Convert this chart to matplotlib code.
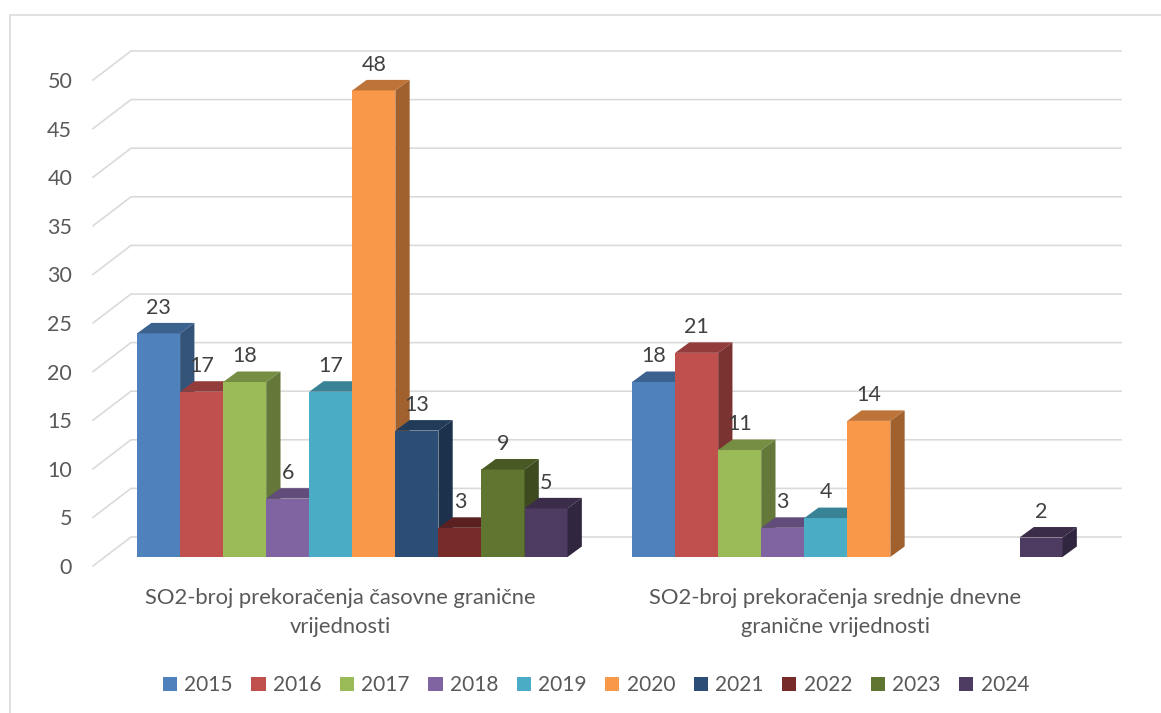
import numpy as np
import matplotlib
matplotlib.use("Agg")
import matplotlib.pyplot as plt
from matplotlib.lines import Line2D
from matplotlib.patches import Patch, Polygon

plt.rcParams['font.family'] = ['Lato', 'DejaVu Sans']

years = ['2015', '2016', '2017', '2018', '2019', '2020', '2021', '2022', '2023', '2024']
categories = ['SO2-broj prekoračenja časovne granične\nvrijednosti',
              'SO2-broj prekoračenja srednje dnevne\ngranične vrijednosti']
hourly = [23, 17, 18, 6, 17, 48, 13, 3, 9, 5]
daily = [18, 21, 11, 3, 4, 14, None, None, None, 2]
y_ticks = [0, 5, 10, 15, 20, 25, 30, 35, 40, 45, 50]

front_colors = ['#4F81BD', '#C0504D', '#9BBB59', '#8064A2', '#4BACC6',
                '#FA984A', '#2C4D75', '#772C2A', '#5F7530', '#4D3B62']

W, H = 1161, 713
TEXT = '#595959'
GRID = '#D9D9D9'

# fake 3D offsets, in data units of the axes below
wall_dx, wall_dy = 38 / 495, 29 / 9.72
bar_dx, bar_dy = 14.3 / 495, 1.08
bar_w = 43.05 / 495
bar_start = -0.411
floor = 0.93


def shade(color, factor):
    r, g, b = matplotlib.colors.to_rgb(color)
    return (r * factor, g * factor, b * factor)


fig = plt.figure(figsize=(W / 100, H / 100), dpi=100)
ax = fig.add_axes([93 / W, 1 - 566 / H, 990 / W, 486 / H])
ax.set_xlim(-0.5, 1.5)
ax.set_ylim(0, 50)
for s in ax.spines.values():
    s.set_visible(False)

# gridlines with the slanted part on the side wall
for v in y_ticks:
    ax.plot([-0.5, -0.5 + wall_dx, 1.5 + wall_dx], [v, v + wall_dy, v + wall_dy],
            color=GRID, lw=1.15, clip_on=False, zorder=1, solid_joinstyle='miter')

ax.set_yticks(y_ticks)
ax.set_xticks([0, 1])
ax.set_xticklabels(categories, linespacing=1.55)
ax.tick_params(axis='y', length=0, pad=15, labelsize=15.5, labelcolor=TEXT)
ax.tick_params(axis='x', length=0, pad=16, labelsize=15.85, labelcolor=TEXT)

# bars: front, top and side faces
for g, values in enumerate([hourly, daily]):
    for i, v in enumerate(values):
        if v is None:
            continue
        x0 = g + bar_start + i * bar_w
        x1 = x0 + bar_w
        c = front_colors[i]
        b0, t0 = floor, floor + v
        ax.add_patch(Polygon([(x0, b0), (x1, b0), (x1, t0), (x0, t0)], fc=c, ec='none',
                             clip_on=False, zorder=2 + i * 0.1))
        ax.add_patch(Polygon([(x0, t0), (x1, t0), (x1 + bar_dx, t0 + bar_dy), (x0 + bar_dx, t0 + bar_dy)],
                             fc=shade(c, 0.76), ec='none', clip_on=False, zorder=2 + i * 0.1))
        ax.add_patch(Polygon([(x1, b0), (x1 + bar_dx, b0 + bar_dy), (x1 + bar_dx, t0 + bar_dy), (x1, t0)],
                             fc=shade(c, 0.64), ec='none', clip_on=False, zorder=2 + i * 0.1))
        ax.text(x0 + bar_w / 2, t0 + 2.65, str(v), ha='center', va='center',
                fontsize=15.5, color='#404040', zorder=5)

handles = [Patch(fc=c, ec='none', label=y) for c, y in zip(front_colors, years)]
fig.legend(handles=handles, loc='center', bbox_to_anchor=(596 / W, 1 - 685 / H), ncol=10,
           frameon=False, fontsize=15, labelcolor=TEXT, handlelength=0.68, handleheight=0.68,
           handletextpad=0.34, columnspacing=0.9, borderpad=0)

# chart frame, only top and left are inside the crop
fig.add_artist(Line2D([9.5 / W, 9.5 / W, 1], [0, 1 - 15 / H, 1 - 15 / H],
                      color=GRID, lw=1.1, solid_joinstyle='miter'))

fig.savefig('out.png', dpi=100)
